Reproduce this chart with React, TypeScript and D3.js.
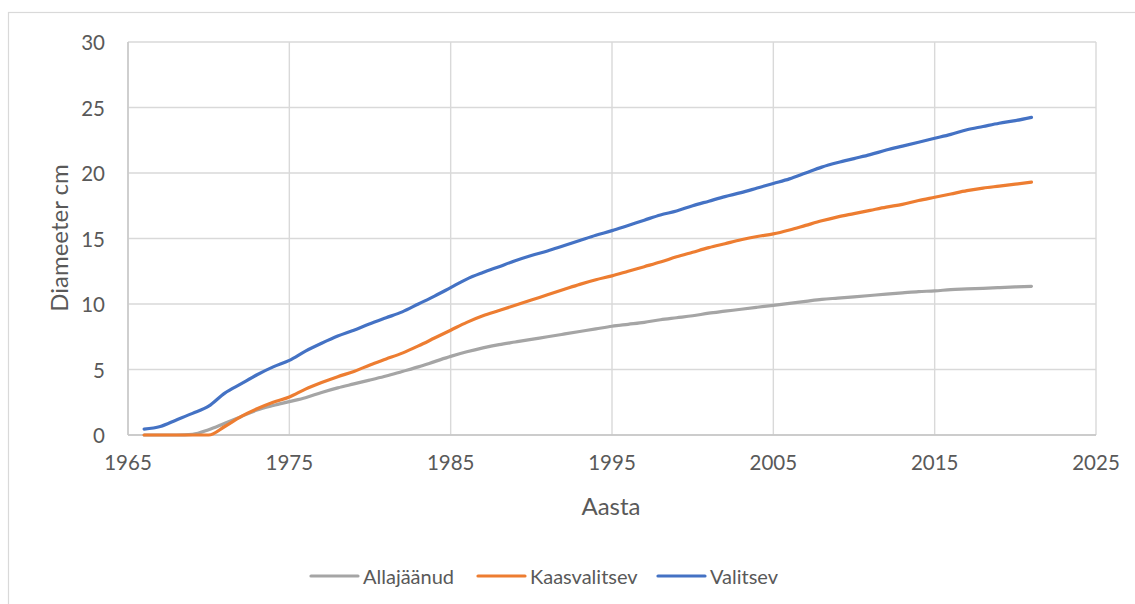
import React from "react";
import * as d3 from "d3";

const years = [
  1966, 1967, 1968, 1969, 1970, 1971, 1972, 1973, 1974, 1975,
  1976, 1977, 1978, 1979, 1980, 1981, 1982, 1983, 1984, 1985,
  1986, 1987, 1988, 1989, 1990, 1991, 1992, 1993, 1994, 1995,
  1996, 1997, 1998, 1999, 2000, 2001, 2002, 2003, 2004, 2005,
  2006, 2007, 2008, 2009, 2010, 2011, 2012, 2013, 2014, 2015,
  2016, 2017, 2018, 2019, 2020, 2021,
];

const allajaanud = [
  0, 0, 0, 0.05, 0.4, 0.9, 1.4, 1.9, 2.25, 2.55,
  2.85, 3.25, 3.6, 3.9, 4.2, 4.5, 4.85, 5.2, 5.6, 6.0,
  6.35, 6.65, 6.9, 7.1, 7.3, 7.5, 7.7, 7.9, 8.1, 8.3,
  8.45, 8.6, 8.8, 8.95, 9.1, 9.3, 9.45, 9.6, 9.75, 9.9,
  10.05, 10.2, 10.35, 10.45, 10.55, 10.65, 10.75, 10.85, 10.95, 11.0,
  11.1, 11.15, 11.2, 11.25, 11.3, 11.35,
];

const kaasvalitsev = [
  0, 0, 0, 0, 0, 0.65, 1.4, 2.0, 2.5, 2.9,
  3.5, 4.0, 4.45, 4.85, 5.35, 5.8, 6.25, 6.8, 7.4, 8.0,
  8.6, 9.1, 9.5, 9.9, 10.3, 10.7, 11.1, 11.5, 11.85, 12.15,
  12.5, 12.85, 13.2, 13.6, 13.95, 14.3, 14.6, 14.9, 15.15, 15.35,
  15.65, 16.0, 16.35, 16.65, 16.9, 17.15, 17.4, 17.6, 17.9, 18.15,
  18.4, 18.65, 18.85, 19.0, 19.15, 19.3,
];

const valitsev = [
  0.45, 0.65, 1.15, 1.65, 2.2, 3.2, 3.9, 4.6, 5.2, 5.7,
  6.4, 7.0, 7.55, 8.0, 8.5, 8.95, 9.4, 10.0, 10.6, 11.25,
  11.9, 12.4, 12.85, 13.3, 13.7, 14.05, 14.45, 14.85, 15.25, 15.6,
  16.0, 16.4, 16.8, 17.1, 17.5, 17.85, 18.2, 18.5, 18.85, 19.2,
  19.55, 20.0, 20.45, 20.8, 21.1, 21.4, 21.75, 22.05, 22.35, 22.65,
  22.95, 23.3, 23.55, 23.8, 24.0, 24.25,
];

const xTicks = [1965, 1975, 1985, 1995, 2005, 2015, 2025];
const yTicks = [0, 5, 10, 15, 20, 25, 30];

const seriesNames = ["Allajäänud", "Kaasvalitsev", "Valitsev"];
const seriesColors = ["#A5A5A5", "#ED7D31", "#4472C4"];
const seriesValues = [allajaanud, kaasvalitsev, valitsev];

const FONT = "Lato, 'Open Sans', sans-serif";
const TEXT = "#595959";

export default function App() {
  const x = d3.scaleLinear().domain([1965, 2025]).range([128, 1096]);
  const y = d3.scaleLinear().domain([0, 30]).range([435, 42]);

  const line = d3
    .line<number>()
    .x((_, i) => x(years[i]))
    .y((d) => y(d))
    .curve(d3.curveMonotoneX);

  const legendItems = [
    { lineX: 311, textX: 363 },
    { lineX: 478, textX: 530 },
    { lineX: 658, textX: 710 },
  ];

  return (
    <svg
      width={1135}
      height={604}
      style={{ position: "absolute", left: 0, top: 0, background: "#fff" }}
      fontFamily={FONT}
    >
      <rect x={0} y={0} width={1135} height={604} fill="#fff" />
      <rect
        x={8.5}
        y={12.5}
        width={1140}
        height={620}
        fill="none"
        stroke="#D9D9D9"
        strokeWidth={1.2}
      />
      {yTicks.map((t) => (
        <line
          key={"gy" + t}
          x1={x(1965)}
          x2={x(2025)}
          y1={y(t)}
          y2={y(t)}
          stroke="#D9D9D9"
          strokeWidth={1.4}
        />
      ))}
      {xTicks.map((t) => (
        <line
          key={"gx" + t}
          x1={x(t)}
          x2={x(t)}
          y1={y(0)}
          y2={y(30)}
          stroke="#D9D9D9"
          strokeWidth={1.4}
        />
      ))}
      <line x1={x(1965)} x2={x(2025)} y1={y(0)} y2={y(0)} stroke="#C4C4C4" strokeWidth={1.7} />
      <line x1={x(1965)} x2={x(1965)} y1={y(0)} y2={y(30)} stroke="#C8C8C8" strokeWidth={1.5} />
      {yTicks.map((t) => (
        <text
          key={"ty" + t}
          x={105}
          y={y(t)}
          textAnchor="end"
          dominantBaseline="central"
          fontSize={20.5}
          fill={TEXT}
        >
          {t}
        </text>
      ))}
      {xTicks.map((t) => (
        <text
          key={"tx" + t}
          x={x(t)}
          y={462}
          textAnchor="middle"
          dominantBaseline="central"
          fontSize={20.5}
          fill={TEXT}
        >
          {t}
        </text>
      ))}
      <text
        x={611}
        y={505}
        textAnchor="middle"
        dominantBaseline="central"
        fontSize={24}
        fill={TEXT}
      >
        Aasta
      </text>
      <text
        transform={`translate(58, 238) rotate(-90)`}
        textAnchor="middle"
        dominantBaseline="central"
        fontSize={24}
        fill={TEXT}
      >
        Diameeter cm
      </text>
      {seriesValues.map((vals, i) => (
        <path
          key={seriesNames[i]}
          d={line(vals) || ""}
          fill="none"
          stroke={seriesColors[i]}
          strokeWidth={3.2}
          strokeLinecap="round"
          strokeLinejoin="round"
        />
      ))}
      {seriesNames.map((name, i) => (
        <g key={"lg" + name}>
          <line
            x1={legendItems[i].lineX}
            x2={legendItems[i].lineX + 47}
            y1={576}
            y2={576}
            stroke={seriesColors[i]}
            strokeWidth={3.2}
            strokeLinecap="round"
          />
          <text
            x={legendItems[i].textX}
            y={576}
            dominantBaseline="central"
            fontSize={20}
            fill={TEXT}
          >
            {name}
          </text>
        </g>
      ))}
    </svg>
  );
}
